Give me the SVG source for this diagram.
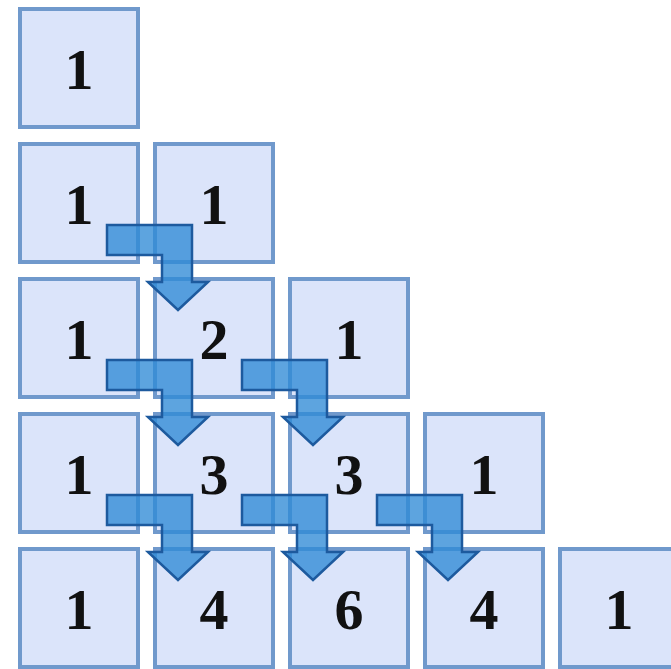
<svg xmlns="http://www.w3.org/2000/svg" width="671" height="669" viewBox="0 0 671 669">
<style>
.sq{fill:#dbe4fa;stroke:#7099cc;stroke-width:4}
.t{font-family:"Liberation Serif","Times New Roman",serif;font-weight:bold;font-size:58px;fill:#111;text-anchor:middle}
.ar{fill:#2f8ad6;fill-opacity:0.78;stroke:#1d5a9e;stroke-width:2.5;stroke-linejoin:miter}
</style>
<defs>
<polygon id="arrow" class="ar" points="107,225 192,225 192,282 208,282 178,310 148,282 162,282 162,255 107,255"/>
</defs>
<rect width="671" height="669" fill="#fff"/>
<g id="n00"><rect class="sq" x="20" y="9" width="118" height="118"/><text class="t" x="79" y="89">1</text></g>
<g id="n10"><rect class="sq" x="20" y="144" width="118" height="118"/><text class="t" x="79" y="224">1</text></g>
<g id="n11"><rect class="sq" x="155" y="144" width="118" height="118"/><text class="t" x="214" y="224">1</text></g>
<g id="n20"><rect class="sq" x="20" y="279" width="118" height="118"/><text class="t" x="79" y="359">1</text></g>
<g id="n21"><rect class="sq" x="155" y="279" width="118" height="118"/><text class="t" x="214" y="359">2</text></g>
<g id="n22"><rect class="sq" x="290" y="279" width="118" height="118"/><text class="t" x="349" y="359">1</text></g>
<g id="n30"><rect class="sq" x="20" y="414" width="118" height="118"/><text class="t" x="79" y="494">1</text></g>
<g id="n31"><rect class="sq" x="155" y="414" width="118" height="118"/><text class="t" x="214" y="494">3</text></g>
<g id="n32"><rect class="sq" x="290" y="414" width="118" height="118"/><text class="t" x="349" y="494">3</text></g>
<g id="n33"><rect class="sq" x="425" y="414" width="118" height="118"/><text class="t" x="484" y="494">1</text></g>
<g id="n40"><rect class="sq" x="20" y="549" width="118" height="118"/><text class="t" x="79" y="629">1</text></g>
<g id="n41"><rect class="sq" x="155" y="549" width="118" height="118"/><text class="t" x="214" y="629">4</text></g>
<g id="n42"><rect class="sq" x="290" y="549" width="118" height="118"/><text class="t" x="349" y="629">6</text></g>
<g id="n43"><rect class="sq" x="425" y="549" width="118" height="118"/><text class="t" x="484" y="629">4</text></g>
<g id="n44"><rect class="sq" x="560" y="549" width="118" height="118"/><text class="t" x="619" y="629">1</text></g>
<g id="connectors">
<use href="#arrow"/>
<use href="#arrow" transform="translate(0,135)"/>
<use href="#arrow" transform="translate(135,135)"/>
<use href="#arrow" transform="translate(0,270)"/>
<use href="#arrow" transform="translate(135,270)"/>
<use href="#arrow" transform="translate(270,270)"/>
</g>
</svg>
